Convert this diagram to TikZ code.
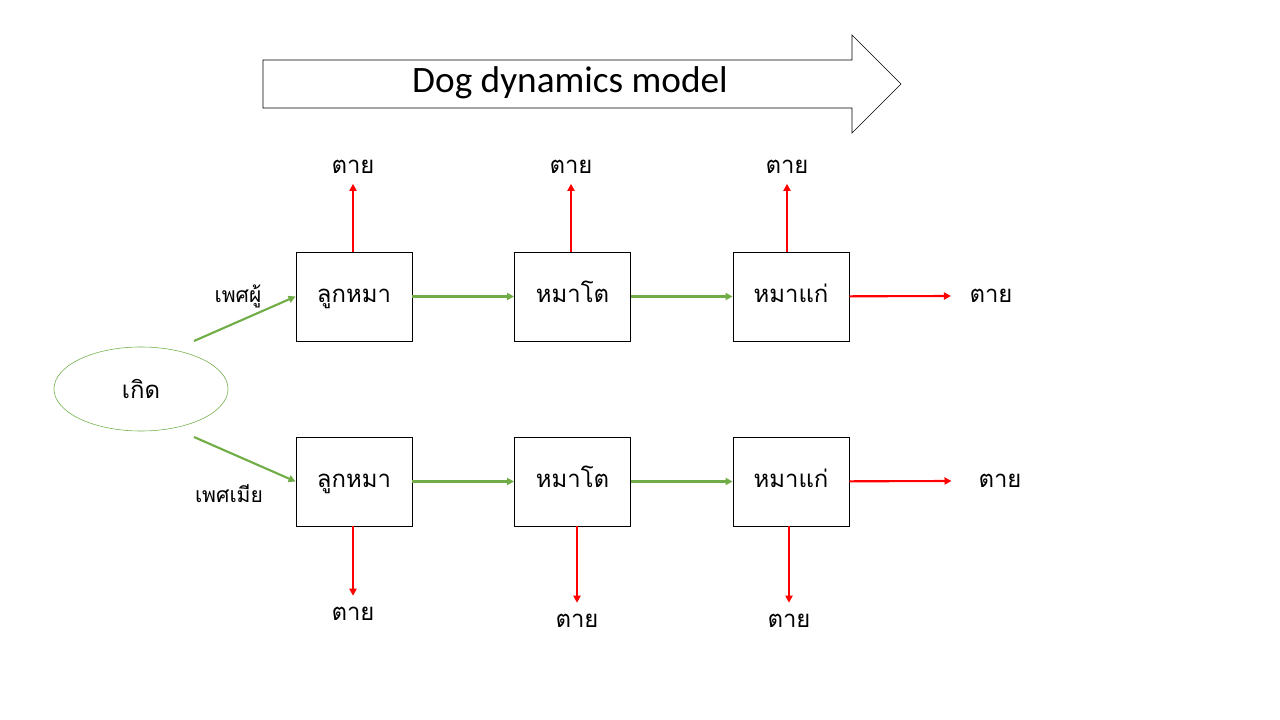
\documentclass[tikz,border=0pt]{standalone}
\usepackage{fontspec}
\setmainfont{Carlito}
\newfontfamily\thaifont[Script=Thai]{Loma}
\usetikzlibrary{arrows.meta,shapes.geometric}

\begin{document}
\begin{tikzpicture}
  [x=0.025cm,y=-0.025cm,
   stagebox/.style={rectangle, draw=black, semithick, minimum width=2.9cm, minimum height=2.225cm, text height=13pt, text depth=5pt, font=\thaifont\fontsize{17}{20}\selectfont},
   deadlabel/.style={font=\thaifont\fontsize{17}{20}\selectfont, inner sep=1pt},
   sexlabel/.style={font=\thaifont\fontsize{15}{18}\selectfont},
   growline/.style={draw={rgb,255:red,112;green,173;blue,71}, line width=1.5pt, -{Triangle[length=5pt,width=5pt]}},
   dieline/.style={draw=red, line width=1.5pt, -{Triangle[length=5pt,width=5pt]}}]
  \useasboundingbox (0,0) rectangle (1280,720);

  % big arrow with title
  \draw[thin, fill=white] (263,60) -- (852,60) -- (852,35) -- (901,84) -- (852,133) -- (852,108) -- (263,108) -- cycle;
  \node (title) at (570,83) {\fontsize{26.5}{30}\selectfont Dog dynamics model};

  \node[ellipse, draw={rgb,255:red,112;green,173;blue,71}, minimum width=4.35cm, minimum height=2.1cm, font=\thaifont\fontsize{17}{20}\selectfont] (birth) at (141,389) {เกิด};

  % male row
  \node[stagebox] (m1) at (354,296.5) {ลูกหมา};
  \node[stagebox] (m2) at (572.5,296.5) {หมาโต};
  \node[stagebox] (m3) at (791,296.5) {หมาแก่};
  % female row
  \node[stagebox] (f1) at (354,481.5) {ลูกหมา};
  \node[stagebox] (f2) at (572.5,481.5) {หมาโต};
  \node[stagebox] (f3) at (791,481.5) {หมาแก่};

  \node[sexlabel] (male) at (238,296) {เพศผู้};
  \node[sexlabel] (female) at (229,494) {เพศเมีย};

  \node[deadlabel] (dm1) at (353,167) {ตาย};
  \node[deadlabel] (dm2) at (571,167) {ตาย};
  \node[deadlabel] (dm3) at (787,167) {ตาย};
  \node[deadlabel] (dm4) at (991,296) {ตาย};
  \node[deadlabel] (df1) at (353,614) {ตาย};
  \node[deadlabel] (df2) at (577,621) {ตาย};
  \node[deadlabel] (df3) at (789,621) {ตาย};
  \node[deadlabel] (df4) at (1000,481) {ตาย};

  \coordinate (bm) at (194,341);
  \coordinate (bf) at (194,437);

  \draw[growline] (bm) -- (m1.west);
  \draw[growline] (bf) -- (f1.west);
  \foreach \from/\to in {m1/m2,m2/m3,f1/f2,f2/f3}
    \draw[growline] (\from) -- (\to);

  \foreach \from/\to in {m1/dm1,m2/dm2,m3/dm3}
    \draw[dieline] (\from.north -| \to) -- ([yshift=-6pt]\to.south);
  \foreach \from/\to in {f1/df1,f2/df2,f3/df3}
    \draw[dieline] (\from.south -| \to) -- ([yshift=7pt]\to.north);
  \draw[dieline] (m3) -- ([xshift=-12pt]dm4.west);
  \draw[dieline] (f3) -- ([xshift=-18pt]df4.west);
\end{tikzpicture}
\end{document}
